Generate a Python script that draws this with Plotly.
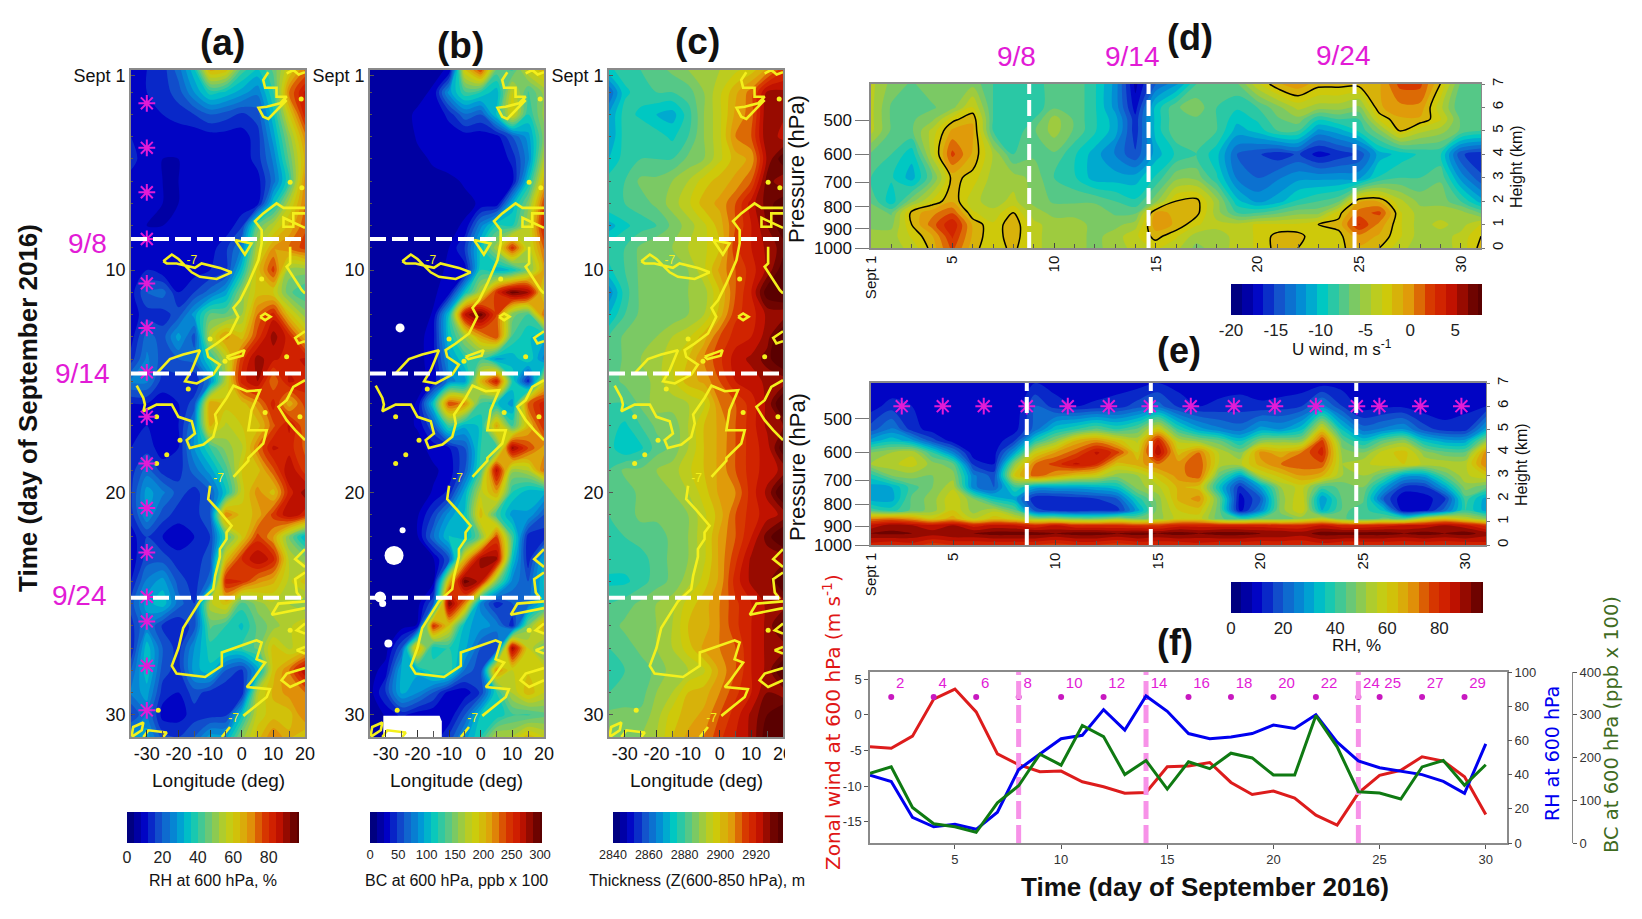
import plotly.graph_objects as go

W, H = 1642, 919
# the page keeps the browser's 8px body margin, so the figure is smaller and all pixel positions shift by it
PAGE_MARGIN = 8
FW, FH = W - 2 * PAGE_MARGIN, H - 2 * PAGE_MARGIN
SANS = "Liberation Sans, sans-serif"
MAGENTA = "#e21bd6"
YELLOW = "#f4f01c"

LONS = [-35, -30, -25, -20, -15, -10, -5, 0, 5, 10, 15, 20]
DAYS = list(range(1, 32))

# panel a, RH at 600 hPa, one row per day
RH_600 = [
    [10, 12, 14, 22, 35, 65, 62, 42, 35, 45, 60, 72],
    [10, 12, 14, 18, 28, 38, 35, 30, 25, 40, 72, 85],
    [10, 10, 12, 14, 16, 20, 18, 15, 18, 35, 60, 82],
    [12, 9, 9, 9, 9, 10, 10, 10, 14, 30, 50, 70],
    [14, 9, 8, 8, 9, 9, 9, 9, 14, 25, 45, 65],
    [10, 9, 8, 8, 9, 9, 9, 9, 10, 22, 40, 70],
    [9, 9, 8, 8, 9, 9, 9, 9, 10, 35, 55, 72],
    [9, 8, 8, 9, 9, 9, 9, 15, 45, 55, 65, 75],
    [9, 9, 9, 9, 9, 10, 15, 25, 55, 68, 72, 78],
    [10, 12, 9, 10, 10, 12, 15, 35, 62, 78, 50, 50],
    [10, 20, 22, 12, 16, 22, 30, 50, 62, 60, 45, 40],
    [10, 14, 14, 18, 30, 45, 45, 52, 72, 82, 62, 50],
    [10, 22, 18, 30, 18, 55, 70, 62, 78, 90, 82, 65],
    [14, 25, 18, 20, 22, 38, 55, 78, 90, 85, 82, 85],
    [25, 25, 14, 14, 12, 25, 55, 82, 88, 72, 85, 82],
    [12, 12, 10, 12, 18, 68, 62, 62, 70, 82, 65, 78],
    [9, 12, 10, 12, 25, 65, 55, 60, 62, 75, 85, 72],
    [12, 14, 10, 12, 28, 40, 50, 55, 72, 85, 82, 75],
    [14, 22, 14, 14, 22, 30, 42, 60, 62, 75, 88, 78],
    [15, 30, 25, 18, 14, 20, 35, 58, 70, 62, 82, 90],
    [14, 28, 18, 14, 14, 20, 72, 62, 65, 78, 88, 82],
    [10, 16, 12, 9, 12, 16, 42, 60, 78, 68, 48, 32],
    [9, 18, 18, 14, 14, 18, 62, 80, 88, 82, 55, 50],
    [12, 25, 30, 18, 14, 22, 82, 80, 70, 65, 55, 62],
    [18, 30, 35, 22, 16, 55, 62, 42, 50, 55, 52, 48],
    [14, 25, 15, 12, 18, 45, 40, 35, 45, 50, 55, 60],
    [12, 35, 20, 14, 28, 38, 40, 40, 45, 62, 55, 60],
    [20, 35, 18, 14, 30, 35, 20, 15, 30, 62, 72, 88],
    [25, 30, 14, 12, 18, 14, 12, 12, 55, 65, 70, 72],
    [15, 25, 10, 10, 14, 14, 15, 35, 58, 62, 62, 72],
    [30, 30, 18, 16, 20, 30, 30, 50, 62, 72, 65, 60],
]

# panel b, BC at 600 hPa
BC_600 = [
    [22, 22, 22, 22, 22, 25, 190, 240, 140, 130, 180, 200],
    [22, 22, 22, 22, 25, 90, 130, 120, 100, 180, 130, 160],
    [22, 22, 22, 25, 25, 40, 70, 60, 110, 190, 120, 160],
    [18, 18, 18, 25, 25, 28, 28, 28, 30, 60, 90, 150],
    [18, 18, 18, 22, 25, 28, 25, 25, 25, 40, 80, 170],
    [18, 18, 18, 22, 22, 22, 25, 25, 25, 30, 110, 200],
    [18, 18, 18, 22, 22, 22, 22, 25, 25, 100, 150, 240],
    [18, 18, 18, 18, 22, 22, 25, 80, 120, 120, 170, 260],
    [18, 18, 18, 18, 20, 24, 50, 110, 165, 250, 170, 230],
    [18, 18, 18, 18, 20, 26, 30, 120, 100, 110, 150, 210],
    [18, 18, 18, 18, 22, 30, 110, 170, 250, 295, 280, 180],
    [18, 18, 18, 18, 25, 110, 270, 295, 240, 150, 130, 230],
    [18, 18, 18, 18, 32, 110, 160, 210, 240, 130, 110, 100],
    [18, 18, 18, 18, 32, 90, 120, 130, 90, 100, 120, 80],
    [18, 18, 18, 20, 28, 80, 90, 200, 260, 120, 40, 180],
    [18, 18, 18, 25, 110, 240, 220, 130, 110, 90, 230, 260],
    [18, 18, 20, 25, 60, 130, 100, 110, 210, 130, 200, 250],
    [18, 18, 18, 20, 28, 35, 60, 120, 130, 280, 240, 210],
    [18, 18, 18, 18, 22, 28, 60, 130, 270, 160, 170, 230],
    [18, 18, 18, 18, 25, 40, 100, 175, 210, 120, 100, 100],
    [18, 18, 20, 22, 50, 90, 110, 200, 130, 90, 95, 60],
    [18, 18, 18, 22, 70, 110, 100, 150, 240, 130, 40, 40],
    [18, 18, 18, 18, 22, 60, 200, 280, 280, 110, 40, 100],
    [18, 18, 18, 18, 20, 200, 295, 270, 150, 80, 60, 110],
    [18, 18, 18, 18, 60, 290, 220, 80, 40, 60, 70, 110],
    [18, 18, 18, 25, 250, 190, 100, 90, 80, 40, 150, 210],
    [18, 18, 60, 210, 110, 120, 100, 60, 50, 280, 180, 140],
    [18, 30, 100, 100, 130, 130, 70, 50, 220, 180, 190, 190],
    [18, 50, 100, 85, 60, 30, 28, 50, 120, 170, 200, 180],
    [18, 25, 40, 28, 25, 25, 60, 110, 110, 130, 130, 140],
    [18, 18, 18, 18, 25, 50, 90, 120, 170, 170, 200, 180],
]

# panel c, 600-850 hPa thickness
THICKNESS = [
    [2875, 2878, 2880, 2882, 2885, 2888, 2890, 2892, 2895, 2898, 2905, 2915],
    [2860, 2875, 2878, 2880, 2880, 2882, 2888, 2895, 2903, 2910, 2925, 2925],
    [2868, 2878, 2875, 2872, 2870, 2878, 2888, 2895, 2905, 2910, 2928, 2925],
    [2868, 2878, 2880, 2878, 2875, 2880, 2888, 2895, 2908, 2912, 2928, 2922],
    [2872, 2878, 2880, 2880, 2880, 2885, 2888, 2895, 2902, 2905, 2925, 2935],
    [2878, 2880, 2885, 2885, 2888, 2892, 2898, 2902, 2905, 2912, 2930, 2925],
    [2880, 2880, 2882, 2885, 2890, 2895, 2902, 2905, 2912, 2922, 2930, 2935],
    [2870, 2875, 2878, 2880, 2885, 2890, 2895, 2902, 2912, 2920, 2928, 2935],
    [2878, 2880, 2885, 2888, 2888, 2892, 2895, 2900, 2915, 2920, 2925, 2930],
    [2875, 2880, 2885, 2885, 2888, 2888, 2895, 2905, 2912, 2918, 2925, 2935],
    [2865, 2878, 2885, 2885, 2888, 2888, 2890, 2900, 2912, 2920, 2935, 2938],
    [2872, 2880, 2885, 2888, 2885, 2888, 2892, 2902, 2915, 2918, 2925, 2925],
    [2880, 2885, 2885, 2888, 2892, 2895, 2902, 2912, 2918, 2920, 2926, 2938],
    [2880, 2885, 2888, 2890, 2895, 2900, 2908, 2915, 2922, 2925, 2930, 2938],
    [2882, 2885, 2885, 2890, 2895, 2902, 2905, 2912, 2920, 2922, 2925, 2925],
    [2880, 2880, 2885, 2890, 2890, 2892, 2895, 2908, 2912, 2918, 2925, 2938],
    [2878, 2875, 2880, 2885, 2885, 2892, 2900, 2905, 2912, 2918, 2925, 2928],
    [2878, 2872, 2875, 2882, 2885, 2892, 2900, 2905, 2912, 2918, 2922, 2935],
    [2880, 2885, 2885, 2888, 2890, 2895, 2900, 2905, 2912, 2918, 2922, 2925],
    [2880, 2882, 2885, 2885, 2888, 2892, 2898, 2905, 2908, 2918, 2925, 2938],
    [2880, 2882, 2885, 2885, 2885, 2888, 2895, 2902, 2912, 2918, 2922, 2925],
    [2880, 2880, 2882, 2882, 2885, 2888, 2895, 2905, 2912, 2920, 2930, 2938],
    [2878, 2878, 2878, 2882, 2885, 2888, 2895, 2905, 2915, 2925, 2925, 2925],
    [2875, 2875, 2878, 2882, 2885, 2890, 2898, 2905, 2918, 2925, 2925, 2938],
    [2880, 2882, 2885, 2888, 2890, 2898, 2902, 2908, 2915, 2920, 2925, 2925],
    [2882, 2885, 2888, 2888, 2892, 2900, 2902, 2908, 2915, 2920, 2925, 2935],
    [2880, 2882, 2885, 2888, 2892, 2898, 2905, 2908, 2912, 2920, 2925, 2925],
    [2878, 2880, 2882, 2885, 2890, 2892, 2895, 2905, 2912, 2920, 2925, 2938],
    [2880, 2882, 2882, 2888, 2892, 2900, 2902, 2908, 2915, 2920, 2928, 2925],
    [2885, 2885, 2885, 2890, 2898, 2902, 2905, 2912, 2918, 2925, 2932, 2938],
    [2885, 2885, 2888, 2892, 2900, 2905, 2908, 2915, 2920, 2925, 2935, 2938],
]

# panel d, U wind, one row per height
U_HEIGHTS = [0, 0.5, 1, 1.5, 2, 3, 4, 5, 5.5, 6, 7]
U_WIND = [
    [-5, -5, -4, -1.5, 2, -1.5, -3, -1.5, -4, -5, -5, -6, -5, -4, -3, -4, -6, -5, -4, -3, -1.5, -2, -3, -2.5, -1, -2, -4, -5, -5, -4, -1.5],
    [-5, -5, -3, -1, 3, -1, -3, -1, -4, -5, -5, -6, -5, -3.5, -1.5, -3, -5, -5, -4, -3, -1.5, -1.5, -3, -2.5, 0, -1, -3, -5, -5, -4, -2],
    [-6, -6, -2, 1, 4, -1, -3, -1, -4, -5, -5, -6, -6, -5, 0, -1, -3, -4, -4, -3, -3, -3, -2, -1.5, 3, 0, -3, -5, -4, -5, -3],
    [-6, -7, -1.5, 0, 1.5, -3, -4, -2, -5, -6, -6, -6, -7, -7, -0.5, -1, -1.5, -5, -8, -8, -7, -6, -6, -2.5, 1, 2, -3, -5, -5, -5, -7],
    [-7, -10, -6, -3, -1, -4, -5, -4, -6, -7, -7, -7, -8, -9, -6, -2, -1.5, -5, -10, -12, -11, -9, -8, -7, -1, -1, -4, -6, -6, -8, -11],
    [-8, -9, -11, -7, -1.5, -2.5, -5, -5, -6, -8, -9, -11, -11, -11, -9, -6, -6, -9, -13, -14, -13, -12, -12, -12, -12, -9, -8, -8, -7, -12, -15],
    [-7, -8, -10, -4, 2, -1, -4.5, -8, -7, -7, -9, -11, -13, -15, -11, -9, -8, -10, -14, -15, -16, -15, -17, -16, -15, -11, -10, -9, -9, -15, -16],
    [-4, -7, -7, -4, -0.5, -0.5, -8, -9, -7, -5, -7, -9, -11, -16, -10, -7, -7, -8, -11, -10, -8, -8, -12, -11, -9, -6, -2, -4, -5, -7, -8],
    [-4, -7, -7, -6, -2.5, -1, -8, -9, -8, -5, -7, -9, -11, -16, -10, -7, -7, -8, -10, -9, -7, -6, -9, -8, -8, -3, -1, -1, -3, -7, -8],
    [-4, -7, -8, -7, -6, -3, -8, -9, -9, -7, -7, -9, -12, -17, -10, -7, -6, -8, -9, -8, -6, -4, -5, -5, -6, -1, 0, 0, -4, -8, -8],
    [-4, -6, -7, -6, -6, -6, -8, -9, -9, -7, -7, -9, -12, -18, -14, -12, -8, -8, -7, -3.5, -1, 0, -1.5, -1.5, -1.5, -1, 2, 2, -2, -7, -7],
]

# panel e, RH by height
RH_HEIGHTS = [0, 0.5, 0.85, 1.15, 1.5, 2, 2.5, 3, 3.5, 4, 4.5, 5, 6, 7]
RH_PROFILE = [
    [82, 80, 82, 78, 80, 80, 80, 80, 80, 78, 80, 80, 78, 80, 80, 80, 82, 80, 80, 80, 80, 80, 82, 80, 80, 80, 80, 80, 80, 80, 82],
    [92, 93, 92, 90, 92, 92, 94, 94, 94, 92, 94, 94, 92, 94, 92, 94, 92, 94, 94, 92, 92, 90, 94, 94, 94, 94, 92, 94, 92, 94, 90],
    [85, 90, 88, 85, 88, 82, 85, 84, 80, 84, 80, 80, 80, 78, 78, 82, 82, 82, 82, 82, 80, 80, 84, 80, 80, 82, 84, 85, 88, 85, 78],
    [70, 72, 68, 60, 66, 55, 62, 58, 50, 50, 46, 45, 50, 46, 50, 58, 58, 45, 40, 45, 45, 50, 55, 45, 40, 45, 42, 55, 62, 55, 48],
    [42, 38, 45, 50, 60, 50, 55, 45, 18, 14, 12, 14, 14, 30, 50, 60, 62, 45, 10, 25, 50, 60, 32, 45, 42, 35, 8, 10, 22, 40, 30],
    [30, 30, 45, 50, 60, 48, 35, 30, 12, 12, 14, 16, 20, 38, 50, 65, 70, 45, 10, 20, 50, 60, 28, 45, 45, 20, 8, 10, 15, 42, 30],
    [30, 32, 42, 48, 55, 25, 20, 40, 30, 30, 30, 32, 35, 50, 55, 65, 62, 35, 14, 30, 52, 58, 42, 45, 48, 30, 15, 15, 30, 50, 45],
    [38, 48, 50, 48, 50, 25, 18, 60, 75, 68, 62, 58, 50, 52, 62, 70, 75, 45, 30, 55, 62, 68, 65, 52, 52, 45, 30, 30, 45, 55, 60],
    [52, 55, 58, 50, 45, 15, 12, 50, 72, 78, 85, 80, 62, 66, 72, 70, 76, 55, 55, 66, 72, 75, 75, 52, 55, 58, 60, 55, 55, 55, 72],
    [48, 52, 55, 40, 25, 9, 10, 30, 58, 68, 75, 85, 78, 60, 88, 62, 72, 55, 48, 70, 65, 72, 82, 50, 48, 58, 62, 50, 45, 45, 70],
    [30, 35, 30, 18, 10, 9, 9, 16, 38, 50, 65, 70, 62, 55, 82, 55, 50, 45, 35, 48, 50, 50, 78, 45, 35, 45, 50, 35, 30, 30, 50],
    [18, 25, 14, 10, 9, 8, 9, 10, 22, 35, 40, 45, 40, 45, 60, 40, 30, 25, 22, 30, 28, 35, 60, 35, 22, 25, 28, 18, 14, 14, 30],
    [10, 14, 12, 10, 10, 10, 9, 8, 20, 14, 12, 13, 14, 18, 22, 15, 12, 13, 14, 13, 14, 16, 26, 16, 10, 11, 11, 9, 9, 11, 12],
    [8, 8, 10, 9, 9, 8, 9, 9, 12, 10, 9, 9, 10, 10, 12, 10, 9, 10, 10, 9, 9, 9, 10, 10, 9, 9, 9, 9, 8, 9, 10],
]

# panel f
F_DAYS = list(range(1, 31))
ZONAL_WIND = [-4.5, -4.7, -3, 2.2, 3.6, 0.4, -5.5, -7, -8, -7.9, -9.4, -10.1, -11, -10.9, -7.3,
              -7.2, -6.7, -9.5, -11.2, -10.7, -11.7, -14.1, -15.5, -11, -8.5, -7.8, -5.9, -6.5, -8.7, -14]
RH_SERIES = [39.6, 36, 15, 9.5, 11, 8, 18, 43, 52, 61, 63, 78, 66, 86, 77,
             64, 61, 62, 64, 69, 67, 75, 59, 48, 44, 42, 40, 36, 29, 58]
BC_SERIES = [163, 178, 83, 45, 38, 25, 94, 134, 208, 182, 275, 249, 160, 193, 126,
             190, 174, 210, 199, 159, 159, 298, 225, 120, 117, 103, 178, 193, 135, 183]
F_MARK_DAYS = [2, 4, 6, 8, 10, 12, 14, 16, 18, 20, 22, 24, 25, 27, 29]
F_MARK_LEVEL = [2.5] * len(F_MARK_DAYS)

STAR_DAYS = [2.5, 4.5, 6.5, 8.6, 10.6, 12.6, 14.6, 16.6, 18.7, 20.7, 22.7, 24.7, 25.8, 27.8, 29.8]
EVENT_DAYS_ABC = [8.6, 14.65, 24.74]
EVENT_DAYS_D = [8.78, 14.65, 24.78]
EVENT_DAYS_E = [8.6, 14.65, 24.67]
EVENT_DAYS_F = [8, 14, 24]

# -7 m/s contour at 600 hPa, (lon, day)
YELLOW_PATHS = [
    [(8.4, 1.1), (6.8, 1.45), (7.4, 1.8), (11, 1.8), (11, 2.2), (14.2, 2.2), (12.1, 2.5), (7.9, 2.65),
     (5.3, 2.7), (6.8, 3.1), (8.4, 3.2), (11, 2.8), (14.2, 2.35)],
    [(20, 7.2), (13.2, 7.2), (11, 7), (6.8, 7.45), (4.2, 7.8), (6.3, 8.2), (6.3, 8.8), (5.3, 9.55), (2.1, 10.6),
     (-0.5, 11.35), (-2.6, 11.7), (-1.1, 12.1), (-3.7, 12.85), (-7.9, 13.3), (-11.1, 13.6), (-10.6, 13.9),
     (-6.9, 14.25), (-9, 14.7), (-14.2, 15.1), (-17.9, 15), (-15.8, 14.5), (-13.2, 13.6), (-18.5, 13.8),
     (-22.7, 14), (-26.9, 14.65)],
    [(-24.8, 9.6), (-22.1, 9.3), (-20, 9.5), (-18.5, 9.7), (-15.8, 10.1), (-13.2, 10.3), (-7.9, 10.4), (-3.2, 10.1),
     (-6.9, 9.9), (-12.7, 9.7), (-14.8, 9.9), (-20.6, 9.7), (-23.7, 9.7), (-24.8, 9.6)],
    [(-2.1, 8.65), (3.1, 8.8), (1, 9.3), (-0.5, 9), (-2.1, 8.65)],
    [(-33.2, 15.2), (-31.1, 15.75), (-30.6, 16.05), (-31.1, 16.35), (-26.9, 16.05), (-22.1, 16.05), (-20, 16.6),
     (-15.8, 16.8), (-14.8, 17.35), (-17.4, 17.65), (-16.4, 18), (-12.1, 17.85), (-9, 17.5), (-7.9, 16.9),
     (-8.4, 16.5), (-4.8, 15.75), (-2.6, 15.2), (1.6, 15.45), (5.8, 15.4), (3.1, 16.3), (2.1, 17.2), (7.9, 17.2),
     (6.8, 17.8), (2.1, 18.45), (2.1, 18.57), (-2.6, 19.3)],
    [(-10, 19.7), (-10.6, 20.3), (-7.4, 20.8), (-3.2, 21.5), (-4.8, 21.8), (-4.8, 22.1), (-6.9, 22.55), (-6.9, 22.9),
     (-8.4, 23.75), (-9, 24.35), (-13.2, 24.9), (-15.8, 25.5), (-18.5, 26.1), (-20, 27), (-22.1, 27.8), (-20.6, 28.15),
     (-11.6, 28.3), (-6.3, 27.8), (-6.3, 27.2), (4.7, 26.65), (6.3, 26.75), (4.7, 27.5), (7.4, 27.65), (3.1, 28.5),
     (1.6, 28.75), (8.9, 28.85), (7.9, 29.2), (0.5, 30.05)],
    [(-3.7, 30.55), (-6.3, 31)],
    [(-4.8, 13.9), (0.9, 13.6), (0.3, 13.85), (-3.9, 14), (-4.8, 13.9)],
    [(5.8, 12.1), (7.4, 11.95), (9.1, 12.1), (7.4, 12.25), (5.8, 12.1)],
    [(20, 7.45), (16.3, 7.45), (16.3, 8.05), (13.2, 8.05), (13.2, 7.65), (20, 8.1)],
    [(15.3, 8.95), (15.3, 9.7), (14.2, 9.85), (16.3, 10.3), (19, 10.9), (20, 11.05)],
    [(20, 12.75), (16.9, 13.05), (17.9, 13.3), (20, 13.2)],
    [(20, 14.95), (16.3, 15.25), (14.2, 15.85), (11.6, 16.15), (14.2, 16.75), (16.9, 17.2), (20, 17.65)],
    [(20, 22.55), (16.9, 23), (20, 23.35)],
    [(20, 23.6), (16.9, 23.9), (17.4, 24.5), (19, 24.8)],
    [(20, 24.9), (11.6, 25), (9.5, 25.5), (13.2, 25.4), (20, 25.2)],
    [(20, 27.9), (14.2, 28.15), (12.6, 28.45), (15.3, 28.75), (20, 28.45)],
    [(20, 25.9), (17.4, 26.2), (20, 26.35)],
    [(20, 26.95), (17.4, 27.1), (20, 27.25)],
    [(-34.8, 30.95), (-34.3, 30.55), (-31.1, 30.35), (-31.6, 30.7), (-34.8, 31)],
    [(-31.1, 31), (-29.5, 30.7), (-23.7, 30.8), (-24.8, 31)],
    [(14.2, 1.15), (16.3, 1), (18, 1.2), (20, 1.1)],
]
YELLOW_BLOB_LON = [-16.9, -19.5, -23.7, -26.9, -26.4, -26.9, 18.8, 19, 15.3, 6.3, 14.2, 18.4, 7.4, 15.3, -10, -5.3]
YELLOW_BLOB_DAY = [15.35, 17.65, 18.3, 16.6, 29.8, 18.7, 2.3, 6.3, 6.05, 10.4, 13.9, 16.6, 16.4, 26.2, 13.1, 14.1]
LABEL_LON = [-15.8, -7.3, -2.6]
LABEL_DAY = [9.6, 19.4, 30.2]
LABEL_TEXT = ["-7", "-7", "-7"]

# missing BC cells
BC_GAP_LON = [-25.5, -27.4, -24.7, -31.8, -31, -29.2]
BC_GAP_DAY = [12.6, 22.84, 21.7, 24.7, 25, 26.8]
BC_GAP_SIZE = [9, 19, 6, 11, 7, 8]
BC_BLOCK_LON = [-30.8, -13, -12.3, -12.3, -30.8]
BC_BLOCK_DAY = [30.04, 30.04, 30.3, 31, 31]

JET = [[0, "#00006e"], [0.1, "#0000c4"], [0.2, "#1458cc"], [0.3, "#0098d6"], [0.37, "#00c8c2"],
       [0.47, "#62c87e"], [0.57, "#b4cc28"], [0.625, "#cdcc0a"], [0.72, "#e19a0a"], [0.8, "#d83c00"],
       [0.88, "#cc1400"], [1, "#5a0000"]]


def px(x):
    return (x - PAGE_MARGIN) / FW


def py(y):
    return 1 - (y - PAGE_MARGIN) / FH


def xdom(a, b):
    return [px(a), px(b)]


def ydom(a, b):
    return [py(b), py(a)]


fig = go.Figure()
notes = []


def note(x, y, text, size, color="#111", family=SANS, angle=0):
    notes.append(dict(x=px(x), y=py(y), xref="paper", yref="paper", text=text, showarrow=False,
                      xanchor="center", yanchor="middle", textangle=angle,
                      font=dict(size=size, color=color, family=family)))


def field(x, y, z, lo, hi, step, axes, bar):
    fig.add_trace(go.Contour(
        x=x, y=y, z=z, zmin=lo, zmax=hi, colorscale=JET, line_width=0, line_smoothing=0.9, xaxis=axes[0], yaxis=axes[1],
        contours=dict(coloring="fill", showlines=False, start=lo, end=hi, size=step),
        hoverinfo="skip",
        colorbar=dict(orientation="h", x=px(bar["x0"]), xanchor="left", y=py(bar["y0"]), yanchor="top",
                      lenmode="pixels", len=bar["x1"] - bar["x0"], thicknessmode="pixels", thickness=31,
                      xpad=0, ypad=0, outlinewidth=0, ticks="", tickvals=bar["ticks"], ticktext=[str(t) for t in bar["ticks"]],
                      tickfont=dict(size=bar["size"], family=SANS, color="#222"))))


def line(x, y, axes, color, width, dash=None):
    fig.add_trace(go.Scatter(x=x, y=y, mode="lines", xaxis=axes[0], yaxis=axes[1], showlegend=False, hoverinfo="skip",
                             line=dict(color=color, width=width, dash=dash)))


def stars(x, y, axes):
    fig.add_trace(go.Scatter(x=x, y=y, mode="markers", xaxis=axes[0], yaxis=axes[1], showlegend=False, hoverinfo="skip",
                             marker=dict(symbol="asterisk-open", size=14, color=MAGENTA, line=dict(color=MAGENTA, width=2))))


layout = dict(width=FW, height=FH, paper_bgcolor="white", plot_bgcolor="white", showlegend=False,
              margin=dict(l=0, r=0, t=0, b=0, autoexpand=False), font=dict(family=SANS, color="#111"))
FRAME = dict(showline=True, linecolor="#8a8a8a", linewidth=1.5, mirror=True, showgrid=False, zeroline=False)

# panels a, b, c
LEFT_PANELS = [
    dict(x0=131, x1=305, z=RH_600, lo=0, hi=96, step=4,
         bar=dict(x0=127, x1=297, y0=812, ticks=[0, 20, 40, 60, 80], size=16)),
    dict(x0=370, x1=544, z=BC_600, lo=0, hi=300, step=12,
         bar=dict(x0=370, x1=540, y0=812, ticks=[0, 50, 100, 150, 200, 250, 300], size=13)),
    dict(x0=609, x1=783, z=THICKNESS, lo=2840, hi=2935, step=4,
         bar=dict(x0=613, x1=783, y0=812, ticks=[2840, 2860, 2880, 2900, 2920], size=12.5)),
]
LON_TICKS = [-30, -20, -10, 0, 10, 20]
for i, p in enumerate(LEFT_PANELS, start=1):
    axes = (f"x{i}", f"y{i}")
    field(LONS, DAYS, p["z"], p["lo"], p["hi"], p["step"], axes, p["bar"])
    if i == 2:
        fig.add_trace(go.Scatter(x=BC_BLOCK_LON, y=BC_BLOCK_DAY, mode="lines", fill="toself", fillcolor="white",
                                 line=dict(color="white", width=0), xaxis=axes[0], yaxis=axes[1],
                                 showlegend=False, hoverinfo="skip"))
        fig.add_trace(go.Scatter(x=BC_GAP_LON, y=BC_GAP_DAY, mode="markers", xaxis=axes[0], yaxis=axes[1],
                                 showlegend=False, hoverinfo="skip",
                                 marker=dict(color="white", size=BC_GAP_SIZE, opacity=1, line_width=0)))
    for path in YELLOW_PATHS:
        line([q[0] for q in path], [q[1] for q in path], axes, YELLOW, 2.6)
    fig.add_trace(go.Scatter(x=YELLOW_BLOB_LON, y=YELLOW_BLOB_DAY, mode="markers", xaxis=axes[0], yaxis=axes[1],
                             showlegend=False, hoverinfo="skip", marker=dict(color=YELLOW, size=5)))
    fig.add_trace(go.Scatter(x=LABEL_LON, y=LABEL_DAY, mode="text", text=LABEL_TEXT, xaxis=axes[0], yaxis=axes[1],
                             showlegend=False, hoverinfo="skip", textfont=dict(color=YELLOW, size=12)))
    if i == 1:
        stars([-30] * len(STAR_DAYS), STAR_DAYS, axes)
    for day in EVENT_DAYS_ABC:
        line([-35, 20], [day, day], axes, "white", 4, "16px,6px")
    layout[f"xaxis{i}"] = dict(FRAME, domain=xdom(p["x0"], p["x1"]), range=[-35, 20], anchor=axes[1], tickangle=0,
                               tickvals=LON_TICKS, ticktext=[str(t) for t in LON_TICKS], ticks="inside", ticklen=7,
                               tickcolor="#333", tickfont=dict(size=18),
                               minor=dict(tickmode="linear", tick0=-30, dtick=5, ticks="inside", ticklen=6, tickcolor="#555"))
    # the "Sept 1" label sits a little below the top edge in the source
    layout[f"yaxis{i}"] = dict(FRAME, domain=ydom(70, 737), range=[31, 1], anchor=axes[0],
                               tickvals=[1.25, 10, 20, 30], ticktext=["Sept 1", "10", "20", "30"], ticks="inside",
                               ticklen=4, tickcolor="#555", tickfont=dict(size=18),
                               minor=dict(tickmode="linear", tick0=1, dtick=1, ticks="inside", ticklen=2, tickcolor="#555"))
    note((p["x0"] + p["x1"]) / 2, 780, "Longitude (deg)", 19)

# panels d, e
PRESSURE_LABELS = ["500", "600", "700", "800", "900", "1000"]
PRESSURE_HEIGHTS = [5.46, 4.0, 2.8, 1.76, 0.82, 0]
HEIGHT_TICKS = [0, 1, 2, 3, 4, 5, 6, 7]
TIME_TICKS = [1, 5, 10, 15, 20, 25, 30]
TIME_LABELS = ["Sept 1", "5", "10", "15", "20", "25", "30"]
PROFILE_PANELS = [
    dict(idx=4, right=7, x0=871, x1=1481, y0=84, y1=248, y=U_HEIGHTS, z=U_WIND, lo=-20, hi=8, step=1.2, events=EVENT_DAYS_D,
         bar=dict(x0=1231, x1=1482, y0=284, ticks=[-20, -15, -10, -5, 0, 5], size=17)),
    dict(idx=5, right=8, x0=871, x1=1486, y0=383, y1=545, y=RH_HEIGHTS, z=RH_PROFILE, lo=0, hi=96, step=4, events=EVENT_DAYS_E,
         bar=dict(x0=1231, x1=1481, y0=582, ticks=[0, 20, 40, 60, 80], size=17)),
]
for p in PROFILE_PANELS:
    i = p["idx"]
    axes = (f"x{i}", f"y{i}")
    field(DAYS, p["y"], p["z"], p["lo"], p["hi"], p["step"], axes, p["bar"])
    if i == 4:
        fig.add_trace(go.Contour(x=DAYS, y=U_HEIGHTS, z=U_WIND, xaxis=axes[0], yaxis=axes[1], showscale=False,
                                 contours=dict(coloring="none", start=-2, end=-2, size=1, showlabels=False),
                                 line=dict(color="black", width=1.5, smoothing=0.9), hoverinfo="skip"))
    else:
        stars(STAR_DAYS, [6] * len(STAR_DAYS), axes)
    for day in p["events"]:
        line([day, day], [0, 7], axes, "white", 4, "16px,6px")
    fig.add_trace(go.Scatter(x=[1, 31], y=[0, 7], mode="lines", line=dict(width=0, color="rgba(0,0,0,0)"),
                             xaxis=axes[0], yaxis=f"y{p['right']}", showlegend=False, hoverinfo="skip"))
    layout[f"xaxis{i}"] = dict(FRAME, domain=xdom(p["x0"], p["x1"]), range=[1, 31], anchor=axes[1], tickangle=-90,
                               tickvals=TIME_TICKS, ticktext=TIME_LABELS, ticks="inside", ticklen=5, tickcolor="#444",
                               tickfont=dict(size=15), minor=dict(tickmode="linear", tick0=1, dtick=1, ticks="inside",
                                                                  ticklen=4, tickcolor="#555"))
    layout[f"yaxis{i}"] = dict(FRAME, domain=ydom(p["y0"], p["y1"]), range=[0, 7], anchor=axes[0], mirror=False,
                               tickvals=PRESSURE_HEIGHTS, ticktext=PRESSURE_LABELS, ticks="outside", ticklen=14,
                               tickcolor="#777", tickfont=dict(size=17))
    layout[f"yaxis{p['right']}"] = dict(domain=ydom(p["y0"], p["y1"]), range=[0, 7], overlaying=axes[1], side="right",
                                        anchor=axes[0], tickvals=HEIGHT_TICKS, ticks="outside", ticklen=3, tickcolor="#777",
                                        tickangle=-90, showline=True, linecolor="#8a8a8a", showgrid=False, zeroline=False,
                                        tickfont=dict(size=15))
    note(797, (p["y0"] + p["y1"]) / 2 + 3, "Pressure (hPa)", 22, angle=-90)
    note(p["x1"] + 36, (p["y0"] + p["y1"]) / 2 + 1, "Height (km)", 16, angle=-90)

# panel f
F_AXES = ("x6", "y6")
line(F_DAYS, ZONAL_WIND, F_AXES, "#dd1c1c", 3)
line(F_DAYS, RH_SERIES, ("x6", "y9"), "#0000f0", 3)
line(F_DAYS, BC_SERIES, ("x6", "y10"), "#0f7a12", 3)
fig.add_trace(go.Scatter(x=F_MARK_DAYS, y=F_MARK_LEVEL, mode="markers+text", text=[str(d) for d in F_MARK_DAYS],
                         textposition="top right", xaxis="x6", yaxis="y6", showlegend=False, hoverinfo="skip",
                         marker=dict(color="#c818c0", size=6), textfont=dict(color=MAGENTA, size=15)))
for day in EVENT_DAYS_F:
    line([day, day], [-18, 6], F_AXES, "#f792e8", 5, "18px,6px")

F_TICKFONT = dict(size=13, color="#333")
WIND_TICKS = [5, 0, -5, -10, -15]
layout["xaxis6"] = dict(FRAME, domain=xdom(870, 1507), range=[1, 31], anchor="y6", tickvals=TIME_TICKS[1:], ticks="outside",
                        ticklen=4, tickcolor="#555", tickfont=F_TICKFONT)
layout["yaxis6"] = dict(FRAME, domain=ydom(672, 843), range=[-18, 6], anchor="x6", tickvals=WIND_TICKS,
                        ticktext=[str(t) for t in WIND_TICKS], ticks="outside", ticklen=4, tickcolor="#555", tickfont=F_TICKFONT)
layout["yaxis9"] = dict(domain=ydom(672, 843), range=[0, 100], overlaying="y6", side="right", anchor="x6",
                        tickvals=[0, 20, 40, 60, 80, 100], ticks="outside", ticklen=4, tickcolor="#555", showgrid=False,
                        zeroline=False, tickfont=F_TICKFONT)
layout["yaxis10"] = dict(domain=ydom(672, 843), range=[0, 400], overlaying="y6", side="right", anchor="free",
                         position=px(1572), tickvals=[0, 100, 200, 300, 400], ticks="outside", ticklen=4, tickcolor="#555",
                         showline=True, linecolor="#8a8a8a", showgrid=False, zeroline=False, tickfont=F_TICKFONT)

# text
note(222, 43, "<b>(a)</b>", 37)
note(460, 45, "<b>(b)</b>", 37)
note(697, 42, "<b>(c)</b>", 37)
note(1190, 37, "<b>(d)</b>", 36)
note(1179, 350, "<b>(e)</b>", 36)
note(1175, 642, "<b>(f)</b>", 36)
note(28, 408, "<b>Time (day of September 2016)</b>", 26, angle=-90)
note(1205, 887, "<b>Time (day of September 2016)</b>", 26)
note(87, 243, "9/8", 28, MAGENTA)
note(82, 373, "9/14", 28, MAGENTA)
note(79, 595, "9/24", 28, MAGENTA)
note(1016, 57, "9/8", 28, MAGENTA)
note(1132, 57, "9/14", 28, MAGENTA)
note(1343, 55, "9/24", 28, MAGENTA)
note(213, 880, "RH at 600 hPa, %", 16)
note(456, 880, "BC at 600 hPa, ppb x 100", 16)
note(697, 880, "Thickness (Z(600-850 hPa), m", 16)
note(1342, 348, "U wind, m s<sup>-1</sup>", 17)
note(1356, 645, "RH, %", 17)
note(832, 722, "Zonal wind at 600 hPa (m s<sup>-1</sup>)", 20, "#e01616", "DejaVu Sans", -90)
note(1552, 754, "RH at 600 hPa", 19, "#0000f0", "DejaVu Sans", -90)
note(1611, 725, "BC at 600 hPa (ppb x 100)", 19.5, "#3f6b1f", "DejaVu Sans", -90)
layout["annotations"] = notes

# panel c's last tick label is cut off in the source image
layout["shapes"] = [dict(type="rect", xref="paper", yref="paper", x0=px(785), x1=px(805), y0=py(770), y1=py(745),
                         fillcolor="white", line_width=0, layer="above")]

fig.update_layout(**layout)
fig.write_html("out.html")
